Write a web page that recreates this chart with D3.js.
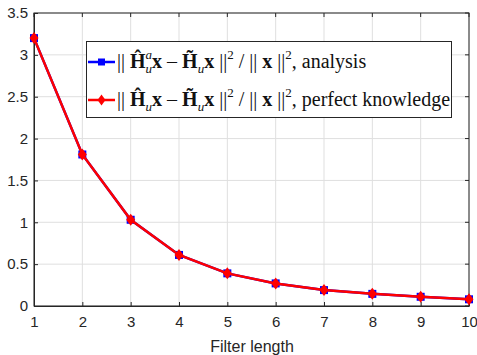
<!DOCTYPE html>
<html>
<head>
<meta charset="utf-8">
<script src="https://cdn.jsdelivr.net/npm/d3@7"></script>
<style>
body { margin:0; background:#fff; }
svg text { font-family: "Liberation Sans", Arial, sans-serif; }
</style>
</head>
<body>
<svg id="chart" width="477" height="355"></svg>
<script>
var filterLength = [1,2,3,4,5,6,7,8,9,10];
var analysis = [3.2, 1.81, 1.03, 0.61, 0.39, 0.27, 0.19, 0.145, 0.11, 0.08];
var perfect = [3.2, 1.81, 1.03, 0.61, 0.39, 0.27, 0.19, 0.145, 0.11, 0.08];
var yTicks = [0, 0.5, 1, 1.5, 2, 2.5, 3, 3.5];

var svg = d3.select("#chart");
var mLeft = 34, mRight = 469, mTop = 13, mBottom = 306;

var x = d3.scaleLinear().domain([1,10]).range([mLeft,mRight]);
var y = d3.scaleLinear().domain([0,3.5]).range([mBottom,mTop]);

// grid
svg.append("g").selectAll("line").data(filterLength).enter().append("line")
	.attr("x1",function(d){return x(d);}).attr("x2",function(d){return x(d);})
	.attr("y1",mTop).attr("y2",mBottom)
	.attr("stroke","#dfdfdf").attr("stroke-width",1);
svg.append("g").selectAll("line").data(yTicks).enter().append("line")
	.attr("x1",mLeft).attr("x2",mRight)
	.attr("y1",function(d){return y(d);}).attr("y2",function(d){return y(d);})
	.attr("stroke","#dfdfdf").attr("stroke-width",1);

// axes
var xAxis = svg.append("g").attr("transform","translate(0,"+mBottom+")")
	.call(d3.axisBottom(x).tickValues(filterLength).tickSizeInner(-4).tickSizeOuter(0).tickPadding(10).tickFormat(d3.format("d")));
var yAxis = svg.append("g").attr("transform","translate("+mLeft+",0)")
	.call(d3.axisLeft(y).tickValues(yTicks).tickSizeInner(-4).tickSizeOuter(0).tickPadding(6).tickFormat(function(d){return d;}));
[xAxis,yAxis].forEach(function(a){
	a.selectAll("path").attr("stroke","#262626");
	a.selectAll("line").attr("stroke","#262626");
	a.selectAll("text").attr("fill","#262626").attr("font-size","15px");
});
// top and right ticks + box
svg.append("g").selectAll("line").data(filterLength).enter().append("line")
	.attr("x1",function(d){return x(d);}).attr("x2",function(d){return x(d);})
	.attr("y1",mTop).attr("y2",mTop+4).attr("stroke","#262626");
svg.append("g").selectAll("line").data(yTicks).enter().append("line")
	.attr("x1",mRight).attr("x2",mRight-4)
	.attr("y1",function(d){return y(d);}).attr("y2",function(d){return y(d);}).attr("stroke","#262626");
svg.append("rect").attr("x",mLeft).attr("y",mTop).attr("width",mRight-mLeft).attr("height",mBottom-mTop)
	.attr("fill","none").attr("stroke","#262626").attr("stroke-width",1);

svg.append("text").attr("x",252).attr("y",352).attr("text-anchor","middle")
	.attr("font-size","16px").attr("fill","#262626").text("Filter length");

// lines
var line = d3.line().x(function(d,i){return x(filterLength[i]);}).y(function(d){return y(d);});
svg.append("path").datum(analysis).attr("d",line).attr("fill","none").attr("stroke","#0000ff").attr("stroke-width",2.5);
svg.append("g").selectAll("rect").data(analysis).enter().append("rect")
	.attr("x",function(d,i){return x(filterLength[i])-4;}).attr("y",function(d){return y(d)-4;})
	.attr("width",8).attr("height",8).attr("fill","#0000ff");
svg.append("path").datum(perfect).attr("d",line).attr("fill","none").attr("stroke","#ff0000").attr("stroke-width",2.5);
svg.append("g").selectAll("path.dm").data(perfect).enter().append("path")
	.attr("d",function(d,i){var cx=x(filterLength[i]), cy=y(d);
		return "M"+cx+","+(cy-6)+"L"+(cx+4.5)+","+cy+"L"+cx+","+(cy+6)+"L"+(cx-4.5)+","+cy+"Z";})
	.attr("fill","#ff0000");

// legend
var lg = svg.append("g");
lg.append("rect").attr("x",86.5).attr("y",41.5).attr("width",365).attr("height",76)
	.attr("fill","#fff").attr("stroke","#262626").attr("stroke-width",1);
var rows = [{c:"#0000ff", y:62, sup:"a", tail:", analysis"},{c:"#ff0000", y:100, sup:null, tail:", perfect knowledge"}];
rows.forEach(function(r,k){
	lg.append("line").attr("x1",88).attr("x2",115).attr("y1",r.y).attr("y2",r.y).attr("stroke",r.c).attr("stroke-width",2.5);
	if (k==0) lg.append("rect").attr("x",98).attr("y",r.y-3.5).attr("width",7).attr("height",7).attr("fill",r.c);
	else lg.append("path").attr("d","M101.5,"+(r.y-5.5)+"L105.5,"+r.y+"L101.5,"+(r.y+5.5)+"L97.5,"+r.y+"Z").attr("fill",r.c);
	var t = lg.append("text").attr("x",117).attr("y",r.y+6).attr("font-size","20px")
		.style("font-family","'Liberation Serif','DejaVu Serif',serif").attr("fill","#111");
	t.append("tspan").text("|| ");
	t.append("tspan").attr("font-weight","bold").text("\u0124");
	if (r.sup) {
		t.append("tspan").attr("font-style","italic").attr("font-size","13px").attr("dy",-9).text("a");
		t.append("tspan").attr("font-style","italic").attr("font-size","13px").attr("dx",-6.5).attr("dy",14).text("u");
	} else {
		t.append("tspan").attr("font-style","italic").attr("font-size","13px").attr("dy",5).text("u");
	}
	t.append("tspan").attr("font-weight","bold").attr("dy",-5).text("x");
	t.append("tspan").text(" \u2013 ");
	t.append("tspan").attr("font-weight","bold").text("H\u0303");
	t.append("tspan").attr("font-style","italic").attr("font-size","13px").attr("dy",5).text("u");
	t.append("tspan").attr("font-weight","bold").attr("dy",-5).text("x");
	t.append("tspan").text(" ||");
	t.append("tspan").attr("font-size","13px").attr("dy",-9).text("2");
	t.append("tspan").attr("dy",9).text(" / || ");
	t.append("tspan").attr("font-weight","bold").text("x");
	t.append("tspan").text(" ||");
	t.append("tspan").attr("font-size","13px").attr("dy",-9).text("2");
	t.append("tspan").attr("dy",9).text(r.tail);
});
</script>
</body>
</html>
